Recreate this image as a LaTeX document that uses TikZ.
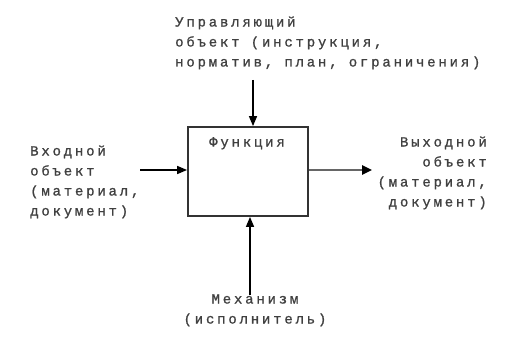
\documentclass[tikz,border=0pt]{standalone}
\usepackage{fontspec}
\newfontfamily\monoru[LetterSpace=20,FakeBold=1]{Liberation Mono}
\usetikzlibrary{arrows.meta}
\begin{document}
\begin{tikzpicture}[x=1pt,y=1pt,
  lbl/.style={inner sep=0pt, font={\monoru\fontsize{14}{20}\selectfont}, text=black!75},
  fbox/.style={draw=black!80, line width=1.8pt, fill=white, minimum width=120pt, minimum height=89pt, inner sep=0pt},
  arr/.style={line width=1.4pt, -{Triangle[length=10pt,width=8pt]}},
  arrg/.style={draw=black!60, line width=2.4pt, -{Triangle[length=10pt,width=9pt,color=black]}}
]
\fill[white] (0,0) rectangle (505,338);
\useasboundingbox (0,0) rectangle (505,338);
\node[fbox] (f) at (248,166.5) {};
\node[lbl, anchor=base] (ft) at (247,191.5) {Функция};
\coordinate (ctop) at (253,258);
\coordinate (cleft) at (140,168);
\coordinate (cright) at (372,168);
\coordinate (cbot) at (250,43);
\draw[arr] (ctop) -- (ctop |- f.north);
\draw[arr] (cleft) -- (cleft -| f.west);
\draw[arrg] (cright -| f.east) -- (cright);
\draw[arr] (cbot) -- (cbot |- f.south);
\node[lbl, anchor=base west, align=left] (ctl) at (175,271.5) {Управляющий\\объект (инструкция,\\норматив, план, ограничения)};
\node[lbl, anchor=base west, align=left] (inp) at (30,122.5) {Входной\\объект\\(материал,\\документ)};
\node[lbl, anchor=base east, align=right] (out) at (487,131.5) {Выходной\\объект\\(материал,\\документ)};
\node[lbl, anchor=base, align=center] (mech) at (255,14.5) {Механизм\\(исполнитель)};
\end{tikzpicture}
\end{document}
